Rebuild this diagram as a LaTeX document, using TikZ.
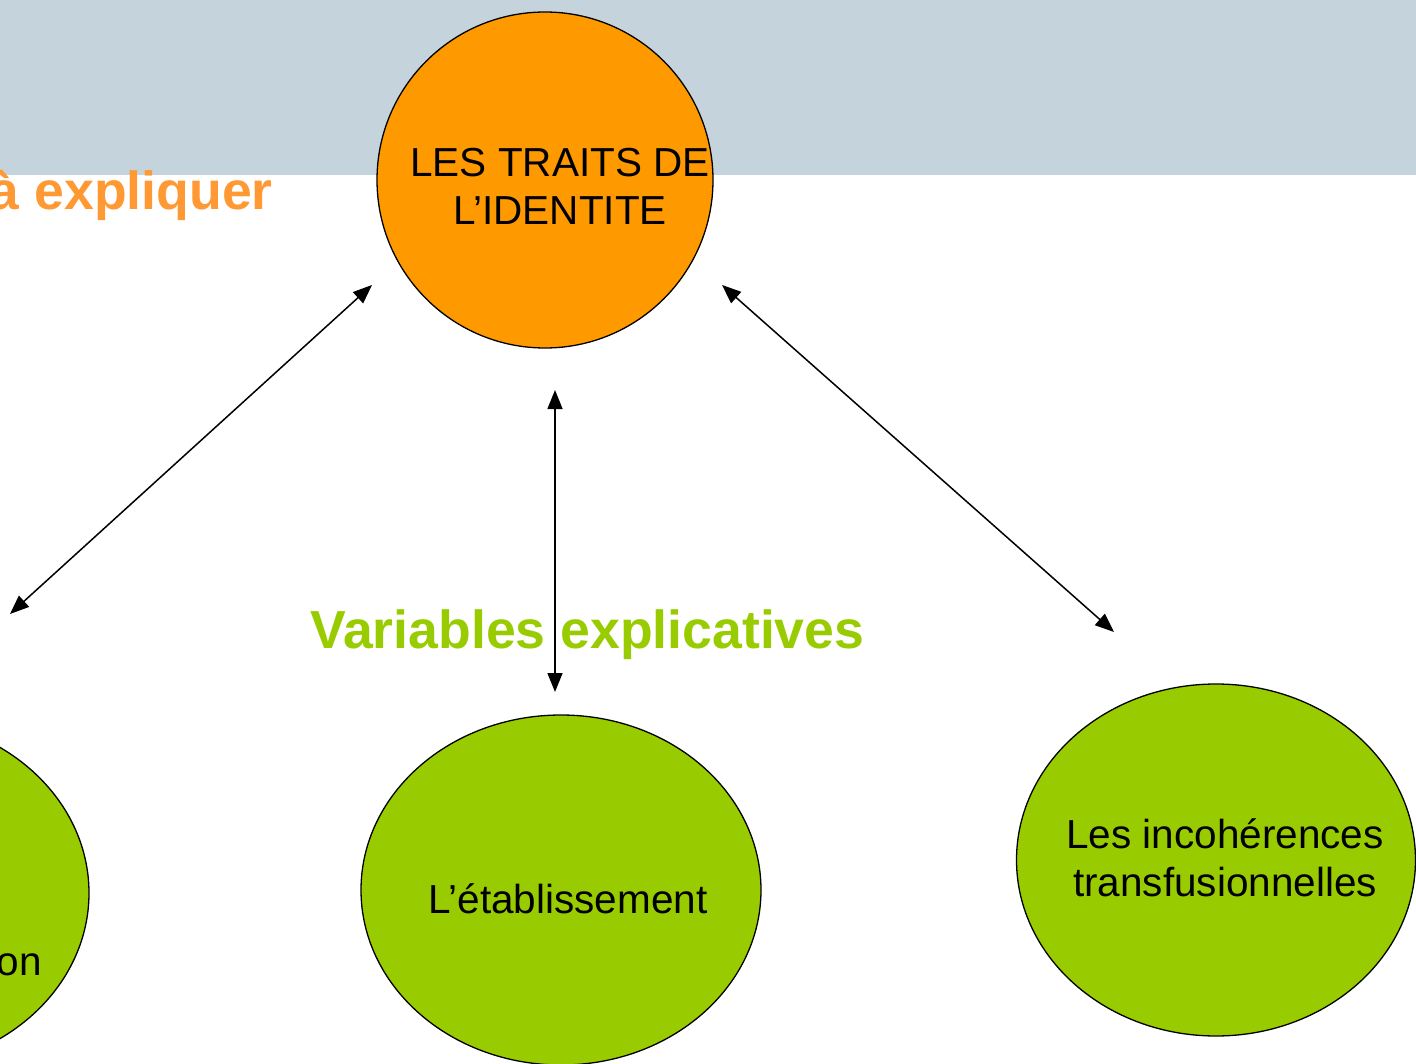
\documentclass[tikz,border=0pt]{standalone}
\usepackage{fontspec}
\setmainfont{Liberation Sans}
\usetikzlibrary{arrows.meta,shapes.geometric}
\definecolor{banner}{HTML}{C5D3DC}
\definecolor{orangefill}{HTML}{FF9900}
\definecolor{titleorange}{HTML}{FF9933}
\definecolor{greenfill}{HTML}{99CC00}
\tikzset{
  bubble/.style={draw=black, line width=1.3pt, inner sep=0pt},
  lbl/.style={inner sep=0pt, align=center, font=\fontsize{40.5}{48}\selectfont},
  conn/.style={line width=1.5pt, {Triangle[length=19pt,width=15pt]}-{Triangle[length=19pt,width=15pt]}},
  heading/.style={inner sep=0pt, font=\fontsize{53.6}{60}\selectfont\bfseries}
}
\begin{document}
\begin{tikzpicture}[x=1pt,y=-1pt]
\useasboundingbox (0,0) rectangle (1416,1064);
\clip (0,0) rectangle (1416,1064);
\fill[banner] (0,0) rectangle (1416,175);
\node[heading, text=titleorange, anchor=base east] (expl) at (273,210) {à expliquer};
% top circle
\node[bubble, circle, fill=orangefill, minimum size=336pt] (id) at (545,180) {};
\node[lbl] (idtxt) at (560,186) {LES TRAITS DE\\L’IDENTITE};
% bottom ellipses
\node[bubble, ellipse, fill=greenfill, minimum width=400pt, minimum height=350pt] (left) at (-111,893) {};
\node[lbl, anchor=base east] (lefttxt) at (42,975) {on};
\node[bubble, ellipse, fill=greenfill, minimum width=400pt, minimum height=350pt] (mid) at (561,890) {};
\node[lbl] (midtxt) at (568,899) {L’établissement};
\node[bubble, ellipse, fill=greenfill, minimum width=399pt, minimum height=352pt] (right) at (1216,860) {};
\node[lbl] (righttxt) at (1225,858) {Les incohérences\\transfusionnelles};
\node[heading, text=greenfill, anchor=base west] (var) at (310,648) {Variables explicatives};
% arrow endpoints
\coordinate (a1) at (372,285);
\coordinate (b1) at (10,614);
\coordinate (a2) at (555,390);
\coordinate (b2) at (555,692);
\coordinate (a3) at (722,285);
\coordinate (b3) at (1114,632);
\draw[conn] (a1) -- (b1);
\draw[conn] (a2) -- (b2);
\draw[conn] (a3) -- (b3);
\end{tikzpicture}
\end{document}
